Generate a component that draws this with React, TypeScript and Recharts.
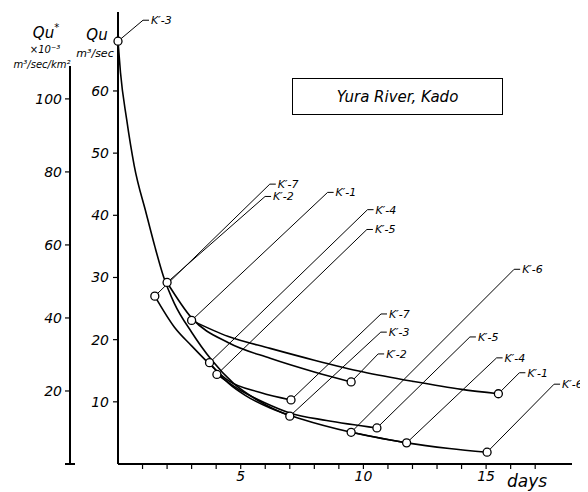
import React from "react";
import { LineChart, Line, XAxis, YAxis, Legend } from "recharts";

const dayTicks = [1, 2, 3, 4, 5, 6, 7, 8, 9, 10, 11, 12, 13, 14, 15, 16, 17];
const dayLabels = [5, 10, 15];
const quTicks = [10, 20, 30, 40, 50, 60];
const quStarTicks = [20, 40, 60, 80, 100];

const k3 = [
  { day: 0, q: 68 },
  { day: 0.1, q: 63 },
  { day: 0.35, q: 55.5 },
  { day: 0.66, q: 48 },
  { day: 1.15, q: 40.3 },
  { day: 1.5, q: 35 },
  { day: 1.85, q: 30.2 },
  { day: 2.3, q: 25.8 },
  { day: 3.0, q: 21.2 },
  { day: 3.8, q: 16.8 },
  { day: 4.7, q: 13 },
  { day: 5.8, q: 10 },
  { day: 7.0, q: 7.7 },
];
const k7 = [
  { day: 1.5, q: 27 },
  { day: 2.3, q: 22 },
  { day: 3.0, q: 19 },
  { day: 3.8, q: 15.8 },
  { day: 4.5, q: 13.4 },
  { day: 5.8, q: 11.5 },
  { day: 7.05, q: 10.3 },
];
const k2 = [
  { day: 2.0, q: 29.2 },
  { day: 3.0, q: 23.5 },
  { day: 4.5, q: 19.5 },
  { day: 6.2, q: 17 },
  { day: 8.0, q: 14.8 },
  { day: 9.5, q: 13.2 },
];
const k1 = [
  { day: 3.0, q: 23.1 },
  { day: 4.5, q: 20.5 },
  { day: 6.2, q: 18.6 },
  { day: 8.0, q: 16.7 },
  { day: 10.0, q: 14.8 },
  { day: 12.0, q: 13.3 },
  { day: 14.0, q: 12 },
  { day: 15.5, q: 11.3 },
];
const k4 = [
  { day: 3.73, q: 16.3 },
  { day: 4.5, q: 13 },
  { day: 5.2, q: 11 },
  { day: 6.2, q: 9 },
  { day: 7.5, q: 7.2 },
  { day: 9.5, q: 5.1 },
  { day: 11.76, q: 3.4 },
];
const k5 = [
  { day: 4.03, q: 14.4 },
  { day: 5.0, q: 11.8 },
  { day: 6.0, q: 9.8 },
  { day: 7.0, q: 8.2 },
  { day: 8.5, q: 7 },
  { day: 10.55, q: 5.8 },
];
const k6 = [
  { day: 9.5, q: 5.1 },
  { day: 11.76, q: 3.4 },
  { day: 13.5, q: 2.5 },
  { day: 15.04, q: 1.9 },
];

const curves = [
  { name: "K′-3", data: k3 },
  { name: "K′-7", data: k7 },
  { name: "K′-2", data: k2 },
  { name: "K′-1", data: k1 },
  { name: "K′-4", data: k4 },
  { name: "K′-5", data: k5 },
  { name: "K′-6", data: k6 },
];

// leader lines from each observed point to its label (pixel offsets)
const leaders = [
  { curve: "K′-3", at: "start", dx: 25, dy: -21 },
  { curve: "K′-7", at: "start", dx: 115, dy: -112 },
  { curve: "K′-2", at: "start", dx: 98, dy: -86 },
  { curve: "K′-1", at: "start", dx: 136, dy: -128 },
  { curve: "K′-4", at: "start", dx: 158, dy: -153 },
  { curve: "K′-5", at: "start", dx: 150, dy: -145 },
  { curve: "K′-6", at: "start", dx: 163, dy: -163 },
  { curve: "K′-7", at: "end", dx: 90, dy: -86 },
  { curve: "K′-3", at: "end", dx: 91, dy: -84 },
  { curve: "K′-2", at: "end", dx: 27, dy: -28 },
  { curve: "K′-5", at: "end", dx: 93, dy: -91 },
  { curve: "K′-4", at: "end", dx: 90, dy: -85 },
  { curve: "K′-1", at: "end", dx: 21, dy: -21 },
  { curve: "K′-6", at: "end", dx: 67, dy: -68 },
];

const FONT = "'DejaVu Sans', sans-serif";
const QU_MAX = 72.7;
const QUS_MAX = 123.8;
const QUS_LINE_TOP = 109;

const makeDot = (name: string, last: number) => (props: any) => {
  const { cx, cy, index } = props;
  const key = `${name}-${index}`;
  if (index !== 0 && index !== last) return <g key={key} />;
  const at = index === 0 ? "start" : "end";
  const lead = leaders.find((l) => l.curve === name && l.at === at);
  return (
    <g key={key}>
      {lead && (
        <polyline
          points={`${cx},${cy} ${cx + lead.dx},${cy + lead.dy} ${cx + lead.dx + 6},${cy + lead.dy}`}
          fill="none"
          stroke="#000"
          strokeWidth={1}
        />
      )}
      {lead && (
        <text
          x={cx + lead.dx + 8}
          y={cy + lead.dy}
          dy="0.35em"
          fontSize={11}
          fontStyle="italic"
          fontFamily={FONT}
          fill="#000"
        >
          {name}
        </text>
      )}
      <circle cx={cx} cy={cy} r={4} fill="#fff" stroke="#000" strokeWidth={1.3} />
    </g>
  );
};

const OuterAxisLabel = (props: any) => {
  const { x, y, width, height } = props.viewBox;
  const ax = x + width;
  const bottom = y + height;
  const top = y + height * (1 - QUS_LINE_TOP / QUS_MAX);
  const cx = ax - 28;
  return (
    <g fontFamily={FONT} fontStyle="italic" fill="#000">
      <line x1={ax} y1={top} x2={ax} y2={bottom} stroke="#000" strokeWidth={2} />
      <line x1={ax - 5} y1={bottom} x2={ax + 5} y2={bottom} stroke="#000" strokeWidth={2} />
      <text x={cx + 4} y={30} textAnchor="middle" fontSize={15}>
        Qu
        <tspan fontSize={10} dy={-7}>
          *
        </tspan>
      </text>
      <text x={cx + 3} y={45} textAnchor="middle" fontSize={10}>
        ×10⁻³
      </text>
      <text x={cx} y={60} textAnchor="middle" fontSize={10}>
        m³/sec/km²
      </text>
    </g>
  );
};

const InnerAxisLabel = (props: any) => {
  const { x, width } = props.viewBox;
  const ax = x + width;
  return (
    <g fontFamily={FONT} fontStyle="italic" fill="#000">
      <text x={ax - 21} y={32} textAnchor="middle" fontSize={15}>
        Qu
      </text>
      <text x={ax - 23} y={49} textAnchor="middle" fontSize={11}>
        m³/sec
      </text>
    </g>
  );
};

const DaysLabel = (props: any) => {
  const { x, y } = props.viewBox;
  return (
    <text x={x + 389} y={y + 23} fontSize={17} fontStyle="italic" fontFamily={FONT} fill="#000">
      days
    </text>
  );
};

const TitleBox = () => (
  <div
    style={{
      boxSizing: "border-box",
      width: 211,
      height: 37,
      border: "1.5px solid #000",
      display: "flex",
      alignItems: "center",
      justifyContent: "center",
      fontFamily: FONT,
      fontStyle: "italic",
      fontSize: 15,
      color: "#000",
    }}
  >
    Yura River, Kado
  </div>
);

const tickStyle = { fill: "#000", fontSize: 14, fontStyle: "italic", fontFamily: FONT };

export default function App() {
  return (
    <LineChart
      width={580}
      height={484}
      margin={{ top: 4, right: 16, bottom: 0, left: 0 }}
      style={{ fontFamily: FONT, background: "#fff" }}
    >
      <XAxis
        type="number"
        dataKey="day"
        domain={[0, 18.5]}
        ticks={dayTicks}
        tickFormatter={(v) => (dayLabels.includes(v) ? String(v) : "")}
        height={28}
        tick={tickStyle}
        tickSize={5}
        tickMargin={2}
        axisLine={{ stroke: "#000", strokeWidth: 2 }}
        tickLine={{ stroke: "#000", strokeWidth: 1.2 }}
        label={{ content: DaysLabel }}
      />
      <YAxis
        yAxisId="qu"
        type="number"
        domain={[0, QU_MAX]}
        ticks={quTicks}
        width={48}
        tick={tickStyle}
        tickSize={5}
        tickMargin={4}
        axisLine={{ stroke: "#000", strokeWidth: 2 }}
        tickLine={{ stroke: "#000", strokeWidth: 1.2 }}
        label={{ content: InnerAxisLabel }}
      />
      <YAxis
        yAxisId="qus"
        type="number"
        domain={[0, QUS_MAX]}
        ticks={quStarTicks}
        width={62}
        tick={tickStyle}
        tickSize={5}
        tickMargin={3}
        allowDataOverflow
        axisLine={false}
        tickLine={{ stroke: "#000", strokeWidth: 1.2 }}
        label={{ content: OuterAxisLabel }}
      />
      <Legend
        layout="vertical"
        align="center"
        verticalAlign="middle"
        wrapperStyle={{ top: 70, left: 284, width: 211, height: 37 }}
        content={TitleBox}
      />
      {curves.map((c) => (
        <Line
          key={c.name}
          yAxisId="qu"
          data={c.data}
          dataKey="q"
          type="monotone"
          stroke="#000"
          strokeWidth={1.6}
          dot={makeDot(c.name, c.data.length - 1)}
          activeDot={false}
          isAnimationActive={false}
          legendType="none"
        />
      ))}
    </LineChart>
  );
}
